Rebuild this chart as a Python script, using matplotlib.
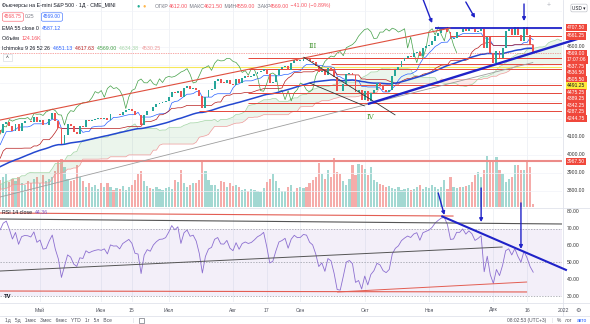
import numpy as np
import pandas as pd
import matplotlib
matplotlib.use("Agg")
import matplotlib.pyplot as plt
from matplotlib.patches import Rectangle
from matplotlib.lines import Line2D
from matplotlib.transforms import blended_transform_factory

plt.rcParams['font.family'] = ['Liberation Sans', 'DejaVu Sans']

W, H = 590, 324

# daily closes, E-mini S&P 500 continuous (read off the chart / approximated)
close_2020_12 = [3647, 3694, 3701, 3722, 3709, 3694, 3687, 3690, 3703, 3735, 3727, 3732, 3756]
close_2021_01 = [3700.65, 3726.86, 3748.14, 3803.79, 3824.68, 3799.61, 3801.19, 3809.84, 3795.54, 3768.25,
                 3798.91, 3851.85, 3853.07, 3841.47, 3855.36, 3849.62, 3750.77, 3787.38, 3714.24]
close_2021_02 = [3773.86, 3826.31, 3830.17, 3871.74, 3886.83, 3915.59, 3911.23, 3909.88, 3916.38, 3934.83,
                 3932.59, 3931.33, 3913.97, 3906.71, 3876.50, 3881.37, 3925.43, 3829.34, 3811.15]
close_2021_03 = [3901.82, 3870.29, 3819.72, 3768.47, 3841.94, 3821.35, 3875.44, 3898.81, 3939.34, 3943.34,
                 3968.94, 3962.71, 3974.12, 3915.46, 3913.10, 3940.59, 3910.52, 3889.14, 3909.52, 3974.54,
                 3971.09, 3958.55, 3972.89]
close_2021_04 = [4019.87, 4077.91, 4073.94, 4079.95, 4097.17, 4128.80, 4127.99, 4141.59, 4124.66, 4170.42,
                 4185.47, 4163.26, 4134.94, 4173.42, 4134.98, 4180.17, 4187.62, 4186.72, 4183.18, 4211.47,
                 4181.17]
close_2021_05 = [4192.66, 4164.66, 4167.59, 4201.62, 4232.60, 4188.43, 4152.10, 4063.04, 4112.50, 4173.85,
                 4163.29, 4127.83, 4115.68, 4159.12, 4155.86, 4197.05, 4188.13, 4195.99, 4200.88, 4204.11]
close_2021_06 = [4202.04, 4208.12, 4192.85, 4229.89, 4226.52, 4227.26, 4219.55, 4239.18, 4247.44, 4255.15,
                 4246.59, 4223.70, 4221.86, 4166.45, 4224.79, 4246.44, 4241.84, 4266.49, 4280.70, 4290.61,
                 4291.80, 4297.50]
close_2021_07 = [4319.94, 4352.34, 4343.54, 4358.13, 4320.82, 4369.55, 4384.63, 4369.21, 4374.30, 4360.03,
                 4327.16, 4258.49, 4323.06, 4358.69, 4367.48, 4411.79, 4422.30, 4401.46, 4400.64, 4419.15,
                 4395.26]
close_2021_08 = [4387.16, 4423.15, 4402.66, 4429.10, 4436.52, 4432.35, 4436.75, 4447.70, 4460.83, 4468.00,
                 4479.71, 4448.08, 4400.27, 4405.80, 4441.67, 4479.53, 4486.23, 4496.19, 4470.00, 4509.37,
                 4528.79, 4522.68]
close_2021_09 = [4524.09, 4536.95, 4535.43, 4520.03, 4514.07, 4493.28, 4458.58, 4468.73, 4443.05, 4480.70,
                 4473.75, 4432.99, 4357.73, 4354.19, 4395.64, 4448.98, 4455.48, 4443.11, 4352.63, 4359.46,
                 4307.54]
close_2021_10 = [4357.04, 4300.46, 4345.72, 4363.55, 4399.76, 4391.34, 4361.19, 4350.65, 4363.80, 4438.26,
                 4471.37, 4486.46, 4519.63, 4536.19, 4549.78, 4544.90, 4566.48, 4574.79, 4551.68, 4596.42,
                 4605.38]
close_2021_11 = [4613.67, 4630.65, 4660.57, 4680.06, 4697.53, 4701.70, 4685.25, 4646.71, 4649.27, 4682.85,
                 4682.80, 4700.90, 4688.67, 4704.54, 4697.96, 4682.94, 4690.70, 4701.46, 4594.62, 4655.27,
                 4567.00]
close_2021_12 = [4513.04, 4577.10, 4538.43, 4591.67, 4686.75, 4701.21, 4667.45, 4712.02, 4668.97, 4634.09,
                 4709.85, 4668.67, 4610.00, 4569.00]

# volume (thousands of contracts), visible bars from 2021-04-14
vol_04 = [1300, 1440, 1580, 1200, 1340, 1250, 1440, 1150, 1060, 1250, 1150, 1340, 1440]
vol_05 = [1150, 1540, 1250, 1340, 1440, 1730, 2160, 2300, 1920, 1340, 1250, 1300, 2020, 1440, 1250,
          960, 1150, 960, 1060, 860]
vol_06 = [1150, 960, 1150, 960, 820, 910, 860, 1010, 820, 960, 1060, 1300, 1580, 1730, 1250, 1010,
          910, 860, 960, 860, 820, 910]
vol_07 = [960, 860, 1300, 1200, 1780, 1150, 960, 1060, 1150, 1150, 1300, 2260, 1730, 1300, 1060, 1060,
          860, 1250, 1200, 960, 1150]
vol_08 = [1010, 1060, 960, 820, 860, 770, 860, 820, 770, 720, 910, 1200, 1340, 1580, 1250, 910, 770,
          770, 960, 1060, 720, 910]
vol_09 = [960, 910, 960, 1150, 1300, 1440, 2110, 1580, 1340, 1780, 1440, 2350, 1680, 1580, 1250, 1060,
          1340, 2020, 1540, 2060, 2020]
vol_10 = [1820, 1540, 1920, 1300, 1200, 1100, 1060, 960, 1010, 910, 860, 960, 820, 860, 910, 820, 860,
          960, 1060, 860, 960]
vol_11 = [910, 1060, 960, 860, 960, 1300, 860, 1440, 960, 910, 960, 960, 1010, 1060, 1200, 1540, 1680,
          1440, 1780, 2450, 2260]
vol_12 = [2160, 2400, 1780, 1580, 1200, 1340, 1440, 2020, 2020, 1780, 1780, 2160, 1920, 124.16]

HOLIDAYS = ["2020-12-25", "2021-01-01", "2021-01-18", "2021-02-15", "2021-04-02",
            "2021-05-31", "2021-07-05", "2021-09-06", "2021-11-25"]
MONTHS = [("2020-12-14", "2020-12-31"), ("2021-01-01", "2021-01-31"), ("2021-02-01", "2021-02-28"),
          ("2021-03-01", "2021-03-31"), ("2021-04-01", "2021-04-30"), ("2021-05-01", "2021-05-31"),
          ("2021-06-01", "2021-06-30"), ("2021-07-01", "2021-07-31"), ("2021-08-01", "2021-08-31"),
          ("2021-09-01", "2021-09-30"), ("2021-10-01", "2021-10-31"), ("2021-11-01", "2021-11-30"),
          ("2021-12-01", "2021-12-20")]

# horizontal levels drawn on the chart
line_levels = [4661.25, 4537.75, 4536.50, 4505.50, 4475.25, 4389.25, 4342.25, 4287.25, 4244.75]
line_starts = ["2021-11-10", "2021-08-09", "2021-09-02", "2021-09-16", "2021-08-09", "2021-08-09",
               "2021-08-09", "2021-08-09", "2021-07-16"]
blue_level, blue_start = 4707.50, "2021-11-03"
yellow_level = 4491.25
volume_level = 3967.50
last_price = 4569.00
countdown = "17:07:06"

# trend lines (date, value) anchors
channel_top = [("2021-04-01", 4166.5), ("2021-11-10", 4705.6)]
support_long = [("2021-04-01", 3732.3), ("2021-12-20", 4514.2)]
wave_down_upper = [("2021-09-02", 4544.0), ("2021-10-15", 4222.0)]
wave_down_lower = [("2021-09-07", 4400.0), ("2021-10-01", 4272.0)]
uptrend_blue = [("2021-10-04", 4283.3), ("2022-01-12", 4658.2)]
rsi_top_red = [("2021-04-01", 79.5), ("2021-11-11", 77.6)]
rsi_top_grey = [("2021-04-01", 75.96), ("2022-01-03", 72.85)]
rsi_mid_grey = [("2021-04-01", 44.18), ("2021-12-06", 59.18)]
rsi_low_red = [("2021-04-01", 33.0), ("2021-12-16", 32.4)]
rsi_rise_red = [("2021-09-20", 32.38), ("2021-12-16", 38.33)]
rsi_down_blue = [("2021-11-05", 77.6), ("2022-01-04", 45.3)]
price_arrows = [(("2021-10-28", 4866.7), ("2021-11-02", 4733.0)),
                (("2021-11-17", 4850.0), ("2021-11-22", 4761.0)),
                (("2021-12-15", 4839.0), ("2021-12-15", 4744.0))]
rsi_arrows = [(("2021-11-04", 91.3), ("2021-11-08", 78.2)),
              (("2021-11-24", 94.3), ("2021-11-24", 74.0)),
              (("2021-12-14", 85.4), ("2021-12-14", 58.0))]
wave_labels = [("III", "2021-09-08", 4605.0), ("IV", "2021-10-05", 4211.0)]

date_ticks = ["2021-05-03", "2021-06-01", "2021-06-15", "2021-07-01", "2021-08-02", "2021-08-17",
              "2021-09-01", "2021-10-01", "2021-11-01", "2021-12-01", "2021-12-16", "2022-01-03"]
date_labels = ["Май", "Июн", "15", "Июл", "Авг", "17", "Сен", "Окт", "Ноя", "Дек", "16", "2022"]


def trading_days(start, end):
    d = pd.bdate_range(start, end)
    return d[~d.isin(pd.to_datetime(HOLIDAYS))]


close_parts = [close_2020_12, close_2021_01, close_2021_02, close_2021_03, close_2021_04, close_2021_05,
               close_2021_06, close_2021_07, close_2021_08, close_2021_09, close_2021_10, close_2021_11,
               close_2021_12]
dates = []
for (s, e), part in zip(MONTHS, close_parts):
    d = trading_days(s, e)
    if len(d) != len(part):
        raise ValueError(f"{s}: {len(d)} days vs {len(part)} closes")
    dates.extend(d)
close = np.array(sum(close_parts, []), dtype=float)
n = len(close)
all_dates = pd.DatetimeIndex(list(dates) + list(pd.bdate_range("2021-12-21", "2022-03-31")))
pos = {d: i for i, d in enumerate(all_dates)}


def xi(s):
    return pos[pd.Timestamp(s)]


idx = np.arange(n)
i0 = xi("2021-04-14")
volume = np.array(vol_04 + vol_05 + vol_06 + vol_07 + vol_08 + vol_09 + vol_10 + vol_11 + vol_12)
vol_x = np.arange(i0, i0 + len(volume))
assert vol_x[-1] == n - 1, (len(volume), n - i0)

open_ = np.r_[close[0], close[:-1]]
hi = np.maximum(open_, close)
lo = np.minimum(open_, close)
up = close >= open_

# indicators
ema55 = pd.Series(close).ewm(span=55, adjust=False).mean().values
delta = np.diff(close, prepend=close[0])
gain = pd.Series(np.clip(delta, 0, None)).ewm(alpha=1 / 14, adjust=False).mean()
loss = pd.Series(np.clip(-delta, 0, None)).ewm(alpha=1 / 14, adjust=False).mean()
rsi = (100 - 100 / (1 + gain / loss)).values


def donchian(k):
    return ((pd.Series(hi).rolling(k).max() + pd.Series(lo).rolling(k).min()) / 2).values


tenkan = donchian(9)
kijun = donchian(26)
span_a = (tenkan + kijun) / 2
span_b = donchian(52)

UP, DOWN = "#26a69a", "#ef5350"
RED_LINE = "#e5473b"
BLUE = "#1f22c8"

fig = plt.figure(figsize=(W / 100, H / 100), dpi=100)
fig.patch.set_facecolor("white")


def fx(x):
    return x / W


def fy(y):
    return 1 - y / H


PLOT_R = 562
rect_price = [0, fy(207), fx(PLOT_R), fy(0) - fy(207)]
axv = fig.add_axes(rect_price)
ax = fig.add_axes(rect_price, sharex=axv)
axr = fig.add_axes([0, fy(302), fx(PLOT_R), fy(208) - fy(302)], sharex=axv)
axv.set_zorder(1)
ax.set_zorder(2)
axr.set_zorder(2)
for a in (ax, axv, axr):
    a.axis("off")

ax.set_xlim(i0 - 0.06, i0 + 183.4)
ax.set_ylim(3711.1, 4861.1)
axv.set_ylim(0, 10000)
axr.set_ylim(26.43, 82.38)

# grid
for d in date_ticks:
    axv.axvline(xi(d), color="#eef0f5", lw=0.6, zorder=0)
    axr.axvline(xi(d), color="#eef0f5", lw=0.6, zorder=0)
for p in range(3800, 4900, 100):
    ax.axhline(p, color="#f1f3f8", lw=0.5, zorder=0)

# volume
vcol = np.where(up[vol_x], "#a3d8d2", "#f5acaa")
axv.bar(vol_x, volume, width=0.72, color=vcol, linewidth=0)

# ichimoku cloud and lines
lead_x = idx + 25
ax.fill_between(lead_x, span_a, span_b, where=span_a >= span_b, interpolate=True,
                color="#43a047", alpha=0.1, lw=0, zorder=1)
ax.fill_between(lead_x, span_a, span_b, where=span_a < span_b, interpolate=True,
                color="#f44336", alpha=0.1, lw=0, zorder=1)
ax.plot(lead_x, span_a, color="#a5d6a7", lw=0.5, zorder=2)
ax.plot(lead_x, span_b, color="#ef9a9a", lw=0.5, zorder=2)
ax.plot(idx, tenkan, color="#2962ff", lw=0.5, zorder=3)
ax.plot(idx, kijun, color="#b71c1c", lw=0.5, zorder=3)
ax.plot(idx - 25, close, color="#43a047", lw=0.5, zorder=3)
ax.plot(idx, ema55, color="#2448d0", lw=1.1, zorder=3)

# horizontal levels
right_end = i0 + 200
ax.hlines(yellow_level, xi("2021-04-01"), right_end, color="#f6e85a", lw=0.8, zorder=2)
ax.hlines(volume_level, xi("2021-04-01"), right_end, color="#ec8b88", lw=1.5, zorder=2)
for lvl, start in zip(line_levels, line_starts):
    ax.hlines(lvl, xi(start), right_end, color=RED_LINE, lw=0.7, zorder=3)
ax.hlines(last_price, xi("2021-04-01"), right_end, color="#ef5350", lw=0.5,
          linestyles=(0, (1, 1.5)), zorder=3)
ax.hlines(blue_level, xi(blue_start), right_end, color=BLUE, lw=1.3, zorder=5)

# candles
vis = idx >= i0 - 1
body = np.maximum(hi - lo, 2.5)
ax.bar(idx[vis], body[vis], bottom=lo[vis], width=0.62,
       color=np.where(up, UP, DOWN)[vis], linewidth=0, zorder=4)


def seg(a, pts, color, lw, clip=True, z=5):
    (d1, v1), (d2, v2) = pts
    a.plot([xi(d1), xi(d2)], [v1, v2], color=color, lw=lw, solid_capstyle="butt",
           clip_on=clip, zorder=z)


seg(ax, channel_top, "#df4f3e", 0.8)
seg(ax, support_long, "#9e9e9e", 0.6)
seg(ax, wave_down_upper, "#333333", 0.6)
seg(ax, wave_down_lower, "#333333", 0.6)
seg(ax, uptrend_blue, BLUE, 1.7, clip=False, z=6)
for txt, d, v in wave_labels:
    ax.text(xi(d), v, txt, color="#4c9a3a", fontsize=5, ha="center", va="center",
            family="DejaVu Serif", zorder=6)
for (t_d, t_v), (h_d, h_v) in price_arrows:
    ax.annotate("", xy=(xi(h_d), h_v), xytext=(xi(t_d), t_v), annotation_clip=False,
                arrowprops=dict(arrowstyle="-|>", color=BLUE, lw=1.0, mutation_scale=5,
                                shrinkA=0, shrinkB=0), zorder=7)

# RSI pane
axr.axhspan(30, 70, color="#7e57c2", alpha=0.09, lw=0, zorder=0)
for lvl in (70, 50, 30):
    axr.axhline(lvl, color="#9598a1", lw=0.5, ls=(0, (2, 2)), zorder=1)
axr.plot(idx, rsi, color="#8c6fd0", lw=0.6, zorder=3)
seg(axr, rsi_top_red, "#e35d52", 0.8)
seg(axr, rsi_top_grey, "#555555", 0.8)
seg(axr, rsi_mid_grey, "#555555", 0.7)
seg(axr, rsi_low_red, "#e35d52", 0.8)
seg(axr, rsi_rise_red, "#e35d52", 0.7)
seg(axr, rsi_down_blue, BLUE, 1.5, clip=False, z=6)
for (t_d, t_v), (h_d, h_v) in rsi_arrows:
    axr.annotate("", xy=(xi(h_d), h_v), xytext=(xi(t_d), t_v), annotation_clip=False,
                 arrowprops=dict(arrowstyle="-|>", color=BLUE, lw=1.0, mutation_scale=5,
                                 shrinkA=0, shrinkB=0), zorder=7)

# separators
for y in (207.5, 302.5, 315.5):
    fig.add_artist(Line2D([0, 1], [fy(y), fy(y)], color="#e0e3eb", lw=0.6))
fig.add_artist(Line2D([fx(PLOT_R + 0.5)] * 2, [fy(315.5), 1], color="#e0e3eb", lw=0.6))

# date axis
trans = blended_transform_factory(ax.transData, fig.transFigure)
for d, lab in zip(date_ticks, date_labels):
    ax.text(xi(d), fy(310), lab, transform=trans, fontsize=3.7, color="#50535e",
            ha="center", va="center", clip_on=False)
fig.text(fx(578), fy(310), "⚙", fontsize=4.5, color="#50535e", ha="center", va="center")

# price scale labels
def price_px(a, v):
    return H - a.transData.transform((0, v))[1]


def scale_label(y, text, style):
    if style == "plain":
        fig.text(fx(567), fy(y), text, fontsize=3.6, color="#333333", va="center")
    elif style == "yellow":
        fig.text(fx(567), fy(y), text, fontsize=3.6, color="#131722", va="center",
                 bbox=dict(boxstyle="square,pad=0.25", fc="#ffeb3b", ec="none"))
    else:
        fig.text(fx(567), fy(y), text, fontsize=3.6, color="white", va="center",
                 bbox=dict(boxstyle="square,pad=0.25", fc="#f0473b", ec="none"))


top_items = [(blue_level, "red"), (line_levels[0], "red"), (4600.0, "plain"), (last_price, "red"),
             (last_price - 0.01, "count")] + \
            [(v, "red") for v in line_levels[1:4]] + [(yellow_level, "yellow")] + \
            [(v, "red") for v in line_levels[4:]]
low_items = [(4100.0, "plain"), (4000.0, "plain"), (volume_level, "red"), (3900.0, "plain"),
             (3800.0, "plain")]
for items in (top_items, low_items):
    prev = -100
    for v, style in sorted(items, key=lambda t: -t[0]):
        y = max(price_px(ax, v), prev + 6.5)
        prev = y
        if style == "count":
            scale_label(y, countdown, "red")
        else:
            scale_label(y, f"{v:.2f}", style)
for r in (80, 70, 60, 50, 40, 30):
    scale_label(price_px(axr, r), f"{r:.2f}", "plain")
fig.text(fx(579), fy(8), "USD ▾", fontsize=3.3, color="#131722", ha="center", va="center",
         bbox=dict(boxstyle="round,pad=0.3", fc="white", ec="#b2b5be", lw=0.4))
fig.text(fx(549), fy(6), "+", fontsize=5, color="#b2b5be", ha="center", va="center")

# header texts
renderer = fig.canvas.get_renderer()


def chain(x, y, parts, size=3.8):
    for s, c in parts:
        t = fig.text(fx(x), fy(y), s, color=c, fontsize=size, va="center", ha="left")
        x = t.get_window_extent(renderer).x1
    return x


DARK, GREY, RED = "#131722", "#787b86", "#f7525f"
chain(2, 6, [("Фьючерсы на E-mini S&P 500 · 1Д · CME_MINI", DARK)])
fig.text(fx(138), fy(6), "●", fontsize=4, color="#22ab94", ha="center", va="center")
fig.text(fx(144), fy(6), "●", fontsize=4, color="#ffb74d", ha="center", va="center")
chain(155, 6, [("ОТКР", GREY), ("4612.00", RED), (" МАКС", GREY), ("4621.50", RED), (" МИН", GREY),
               ("4559.00", RED), (" ЗАКР", GREY), ("4569.00", RED), (" −41.00 (−0.89%)", RED)])
fig.text(fx(4), fy(17), "4568.75", fontsize=3.5, color=RED, va="center",
         bbox=dict(boxstyle="round,pad=0.35", fc="white", ec=RED, lw=0.4))
fig.text(fx(25), fy(17), "0.25", fontsize=3.5, color=GREY, va="center")
fig.text(fx(43), fy(17), "4569.00", fontsize=3.5, color="#2962ff", va="center",
         bbox=dict(boxstyle="round,pad=0.35", fc="white", ec="#2962ff", lw=0.4))
chain(2, 29, [("EMA 55 close 0  ", DARK), ("4587.12", "#2962ff")])
chain(2, 38, [("Объём  ", DARK), ("124.16K", RED)])
chain(2, 48, [("Ichimoku 9 26 52 26  ", DARK), ("4651.13  ", "#2962ff"), ("4617.63  ", "#b71c1c"),
              ("4569.00  ", "#43a047"), ("4634.38  ", "#a5d6a7"), ("4530.25", "#ef9a9a")])
fig.add_artist(Rectangle((fx(3), fy(61)), fx(9), fy(54) - fy(61), fc="white", ec="#d1d4dc", lw=0.4))
fig.text(fx(7.5), fy(57.5), "˄", fontsize=3.5, color=DARK, ha="center", va="center")
chain(2, 213, [("RSI 14 close  ", DARK), ("44.36", "#7e57c2")])
fig.text(fx(8), fy(296), "TV", fontsize=4.2, color="#131722", ha="center", va="center",
         fontweight="bold")

# bottom toolbar
chain(5, 320.5, [("1д   5д   1мес   3мес   6мес   YTD   1г   5л   Все", "#50535e")], size=3.5)
fig.text(fx(133), fy(320.5), "|", fontsize=3.5, color="#d1d4dc", va="center")
fig.add_artist(Rectangle((fx(139), fy(323)), fx(5), fy(318) - fy(323), fc="none", ec="#50535e", lw=0.4))
fig.text(fx(527), fy(320.5), "08:02:53 (UTC+3)", fontsize=3.5, color="#50535e", ha="center", va="center")
fig.text(fx(552), fy(320.5), "|", fontsize=3.5, color="#d1d4dc", ha="center", va="center")
fig.text(fx(559), fy(320.5), "%", fontsize=3.5, color="#50535e", ha="center", va="center")
fig.text(fx(569), fy(320.5), "лог", fontsize=3.5, color="#50535e", ha="center", va="center")
fig.text(fx(582), fy(320.5), "авто", fontsize=3.5, color="#2962ff", ha="center", va="center")

fig.savefig("out.png", dpi=100)
